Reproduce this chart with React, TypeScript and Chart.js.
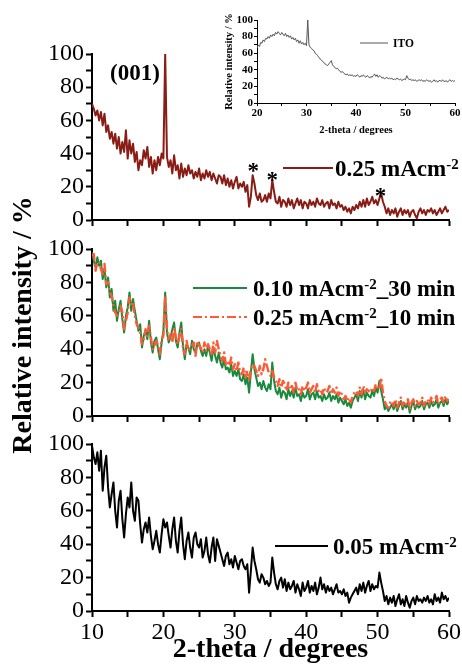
import React, { useEffect, useRef } from "react";
import { Chart, registerables } from "chart.js";

Chart.register(...registerables);

// ---------- data (2-theta sampled every 0.25 degree) ----------
const STEP = 0.25;
const MAIN_START = 10; // degrees, first sample of the three main panels
const ITO_START = 20; // degrees, first sample of the inset

// 0.25 mA cm-2 (top panel)
const J025 = [
  70, 67, 63, 66, 60, 65, 57, 64, 53, 57, 49, 53, 46, 52, 43, 50,
  40, 47, 41, 54, 37, 48, 40, 46, 35, 41, 30, 36, 33, 42, 37, 44,
  32, 38, 28, 36, 30, 38, 33, 40, 37, 100, 38, 32, 36, 28, 39, 30,
  33, 25, 34, 26, 31, 27, 33, 28, 30, 25, 29, 26, 31, 24, 28, 25,
  30, 26, 29, 24, 28, 25, 22, 27, 26, 22, 27, 21, 25, 20, 24, 19,
  23, 26, 19, 22, 20, 23, 17, 21, 8, 14, 27, 22, 15, 12, 16, 11,
  12, 15, 11, 16, 13, 24, 17, 11, 10, 14, 8, 12, 11, 8, 13, 9,
  12, 7, 10, 13, 9, 12, 7, 11, 10, 7, 12, 9, 11, 8, 13, 10,
  9, 12, 8, 10, 11, 7, 12, 9, 10, 7, 11, 8, 9, 6, 8, 5,
  7, 4, 8, 6, 9, 7, 11, 8, 12, 8, 13, 9, 11, 14, 10, 12,
  9, 13, 16, 11, 8, 4, 7, 3, 6, 4, 7, 2, 5, 7, 3, 6,
  4, 6, 2, 5, 6, 3, 1, 5, 7, 4, 6, 3, 6, 5, 7, 4,
  6, 3, 5, 7, 4, 6, 8, 5, 6,
];

// 0.10 mA cm-2, 30 min (middle panel, solid green)
const J010_30 = [
  98, 93, 89, 95, 90, 93, 82, 88, 77, 83, 71, 76, 63, 69, 57, 64,
  69, 58, 50, 60, 65, 74, 63, 70, 63, 57, 51, 55, 41, 48, 51, 46,
  57, 44, 38, 45, 47, 40, 34, 44, 51, 74, 50, 44, 47, 52, 56, 45,
  41, 50, 56, 42, 34, 43, 41, 37, 45, 40, 38, 43, 44, 39, 36, 40,
  36, 42, 38, 33, 41, 36, 32, 38, 32, 29, 34, 28, 29, 26, 31, 24,
  27, 24, 28, 22, 21, 25, 19, 23, 14, 26, 37, 28, 23, 18, 20, 16,
  21, 17, 15, 19, 16, 32, 21, 15, 13, 17, 11, 15, 14, 10, 16, 12,
  15, 11, 17, 12, 13, 9, 14, 11, 12, 16, 10, 13, 14, 10, 15, 11,
  12, 9, 13, 10, 11, 14, 9, 12, 10, 13, 8, 11, 9, 7, 10, 6,
  8, 5, 9, 11, 13, 9, 15, 11, 16, 10, 14, 12, 11, 15, 12, 17,
  14, 21, 15, 10, 4, 6, 3, 5, 7, 4, 8, 3, 6, 9, 4, 7,
  5, 8, 2, 6, 9, 4, 7, 5, 6, 9, 4, 7, 8, 5, 9, 6,
  7, 10, 5, 8, 9, 6, 10, 7, 9,
];

// 0.25 mA cm-2, 10 min (middle panel, dash-dot orange)
const J025_10 = [
  96, 97, 87, 92, 92, 88, 85, 91, 79, 80, 74, 72, 66, 62, 60, 61,
  66, 62, 52, 57, 62, 71, 66, 67, 60, 55, 53, 50, 43, 46, 52, 48,
  54, 47, 40, 42, 45, 42, 37, 46, 48, 72, 52, 46, 49, 44, 53, 47,
  43, 48, 52, 40, 37, 45, 39, 40, 42, 44, 36, 45, 42, 41, 38, 44,
  39, 43, 40, 36, 44, 38, 45, 40, 36, 33, 38, 31, 33, 30, 35, 28,
  31, 27, 32, 26, 25, 29, 23, 27, 22, 28, 31, 30, 27, 24, 30, 25,
  28, 34, 30, 26, 24, 27, 23, 21, 18, 22, 17, 21, 19, 15, 20, 16,
  18, 14, 20, 15, 16, 13, 18, 15, 17, 20, 14, 16, 18, 14, 19, 15,
  16, 13, 17, 14, 15, 18, 13, 16, 14, 17, 12, 15, 13, 10, 12, 9,
  11, 8, 12, 14, 15, 12, 17, 13, 18, 14, 16, 15, 14, 17, 15, 19,
  17, 16, 23, 14, 9, 6, 5, 8, 9, 6, 10, 5, 8, 11, 6, 9,
  7, 10, 4, 8, 10, 6, 9, 7, 8, 11, 6, 9, 10, 7, 11, 8,
  9, 12, 7, 10, 11, 8, 12, 9, 10,
];

// 0.05 mA cm-2 (bottom panel)
const J005 = [
  99, 92, 88, 95, 84, 96, 72, 86, 93, 74, 62, 70, 77, 60, 50, 66,
  72, 55, 44, 58, 68, 62, 77, 60, 54, 68, 66, 52, 41, 49, 53, 47,
  56, 45, 37, 42, 48, 40, 35, 46, 55, 50, 53, 45, 38, 49, 56, 42,
  35, 48, 56, 40, 31, 42, 47, 38, 32, 44, 47, 40, 38, 43, 32, 36,
  44, 34, 29, 38, 44, 30, 43, 39, 35, 31, 27, 33, 35, 28, 31, 26,
  33, 29, 25, 30, 31, 27, 25, 28, 11, 24, 38, 30, 25, 19, 17, 22,
  20, 16, 18, 15, 17, 32, 23, 16, 13, 18, 20, 14, 19, 12, 17, 13,
  15, 18, 11, 16, 13, 9, 17, 12, 14, 18, 11, 15, 12, 17, 10, 14,
  20, 13, 16, 11, 15, 12, 14, 10, 13, 16, 11, 12, 10, 13, 9, 11,
  5, 8, 10, 12, 14, 10, 16, 12, 17, 11, 15, 18, 12, 16, 13, 15,
  14, 23, 17, 12, 6, 9, 4, 8, 5, 9, 3, 7, 10, 4, 7, 3,
  9, 5, 2, 6, 8, 4, 9, 6, 7, 5, 8, 6, 9, 5, 7, 4,
  10, 6, 8, 5, 11, 7, 9, 6, 8,
];

// ITO substrate (inset)
const ITO = [
  66, 70, 68, 73, 72, 76, 74, 78, 77, 80, 78, 82, 80, 83, 81, 85,
  83, 86, 84, 82, 85, 83, 81, 84, 80, 82, 79, 81, 77, 79, 76, 78,
  74, 76, 72, 75, 71, 73, 70, 72, 69, 100, 70, 67, 66, 64, 63, 60,
  59, 57, 55, 53, 52, 50, 49, 47, 46, 45, 47, 49, 51, 46, 44, 43,
  41, 42, 40, 38, 37, 38, 36, 35, 34, 35, 33, 34, 33, 34, 32, 33,
  32, 34, 33, 31, 33, 32, 34, 32, 31, 33, 32, 30, 32, 31, 33, 35,
  32, 34, 31, 33, 32, 30, 31, 29, 30, 31, 29, 30, 29, 30, 28, 29,
  28, 30, 29, 28, 29, 27, 28, 29, 28, 33, 30, 28, 29, 27, 28, 27,
  28, 26, 27, 28, 27, 28, 26, 27, 26, 28, 27, 26, 27, 25, 26, 28,
  26, 27, 25, 27, 27, 26, 28, 26, 26, 27, 25, 27, 28, 26, 27, 26,
  27,
];

// peak markers (*) in the top panel, in data units
const STAR_X = [32.6, 35.25, 50.4];
const STAR_Y = [33, 28, 18];

const X_MIN = 10, X_MAX = 60;
const Y_MIN = 0, Y_MAX = 100;
const INSET_X_MIN = 20, INSET_X_MAX = 60;

// ---------- styling ----------
const CW = 462, CH = 669;
const SERIF = "'Liberation Serif', 'Times New Roman', serif";
const BROWN = "#8a1c16";
const GREEN = "#178a3e";
const ORANGE = "#ff5a34";
const DASHDOT = [9, 3, 2, 3];

function toPoints(values: number[], start: number) {
  return values.map((y, i) => ({ x: start + i * STEP, y }));
}

type Area = { left: number; top: number; right: number; bottom: number };

function lineDs(label: string, values: number[], start: number, color: string, width: number, dash: number[] = [], order = 0) {
  return {
    label,
    order,
    data: toPoints(values, start),
    borderColor: color,
    borderWidth: width,
    borderDash: dash,
    pointRadius: 0,
    tension: 0,
    fill: false,
    borderJoinStyle: "round",
  };
}

function buildConfig(o: {
  area: Area;
  yAxisW: number;
  xAxisH: number;
  datasets: any[];
  xMin: number;
  xMax: number;
  xStep: number;
  yStep: number;
  showXLabels: boolean;
  tickFont: any;
  tickLen: number;
  lineW: number;
  xTitle?: any;
  yTitle?: any;
  decor?: (chart: any) => void;
}) {
  const a = o.area;
  const grid = {
    display: true,
    drawOnChartArea: false,
    drawTicks: true,
    tickLength: o.tickLen,
    tickColor: "#000",
    tickWidth: o.lineW,
  };
  return {
    type: "line",
    data: { datasets: o.datasets },
    options: {
      animation: false,
      responsive: false,
      maintainAspectRatio: false,
      events: [],
      font: { family: SERIF },
      layout: {
        padding: {
          left: a.left - o.yAxisW,
          top: a.top,
          right: CW - a.right,
          bottom: CH - a.bottom - o.xAxisH,
        },
      },
      plugins: { legend: { display: false }, tooltip: { enabled: false }, title: { display: false } },
      scales: {
        x: {
          type: "linear",
          min: o.xMin,
          max: o.xMax,
          afterFit: (s: any) => {
            s.height = o.xAxisH;
            s.paddingLeft = 0;
            s.paddingRight = 0;
          },
          border: { display: true, color: "#000", width: o.lineW },
          grid,
          ticks: {
            stepSize: o.xStep,
            autoSkip: false,
            maxRotation: 0,
            minRotation: 0,
            padding: 1,
            color: "#000",
            font: o.tickFont,
            callback: (v: number) => (o.showXLabels && Math.abs(v % 10) < 1e-6 ? String(v) : ""),
          },
          title: o.xTitle || { display: false },
        },
        y: {
          type: "linear",
          min: Y_MIN,
          max: Y_MAX,
          afterFit: (s: any) => {
            s.width = o.yAxisW;
            s.paddingTop = 0;
            s.paddingBottom = 0;
          },
          border: { display: true, color: "#000", width: o.lineW },
          grid,
          ticks: {
            stepSize: o.yStep,
            autoSkip: false,
            padding: o.lineW > 1 ? 2 : 1,
            color: "#000",
            font: o.tickFont,
            callback: (v: number) => (Math.abs(v % 20) < 1e-6 ? String(v) : ""),
          },
          title: o.yTitle || { display: false },
        },
      },
    },
    plugins: o.decor ? [{ id: "decor", afterDraw: o.decor }] : [],
  };
}

type Part = { text: string; sup?: boolean };
function drawLegendEntry(
  ctx: CanvasRenderingContext2D,
  e: { x1: number; x2: number; y: number; color: string; width: number; dash?: number[]; textX: number; size: number; supSize: number; parts: Part[] }
) {
  ctx.save();
  ctx.strokeStyle = e.color;
  ctx.lineWidth = e.width;
  ctx.setLineDash(e.dash || []);
  ctx.beginPath();
  ctx.moveTo(e.x1, e.y);
  ctx.lineTo(e.x2, e.y);
  ctx.stroke();
  ctx.setLineDash([]);
  ctx.fillStyle = "#000";
  ctx.textAlign = "left";
  ctx.textBaseline = "alphabetic";
  const base = e.y + e.size * 0.34;
  let x = e.textX;
  for (const p of e.parts) {
    const size = p.sup ? e.supSize : e.size;
    ctx.font = `bold ${size}px ${SERIF}`;
    ctx.fillText(p.text, x, p.sup ? base - e.size * 0.3 : base);
    x += ctx.measureText(p.text).width;
  }
  ctx.restore();
}

const MAIN_TICK_FONT = { family: SERIF, size: 24, weight: 400 };
const INSET_TICK_FONT = { family: SERIF, size: 11, weight: "bold" };

export default function App() {
  const topRef = useRef<HTMLCanvasElement>(null);
  const midRef = useRef<HTMLCanvasElement>(null);
  const botRef = useRef<HTMLCanvasElement>(null);
  const insetRef = useRef<HTMLCanvasElement>(null);

  useEffect(() => {
    const charts: Chart[] = [];

    // top panel: 0.25 mA cm-2
    charts.push(
      new Chart(topRef.current as HTMLCanvasElement, buildConfig({
        area: { left: 92, top: 54, right: 449, bottom: 220 },
        yAxisW: 92,
        xAxisH: 10,
        datasets: [lineDs("0.25 mAcm-2", J025, MAIN_START, BROWN, 2)],
        xMin: X_MIN, xMax: X_MAX, xStep: 5, yStep: 10,
        showXLabels: false,
        tickFont: MAIN_TICK_FONT, tickLen: 6, lineW: 2,
        decor: (chart: any) => {
          const ctx = chart.ctx as CanvasRenderingContext2D;
          const xs = chart.scales.x, ys = chart.scales.y;
          drawLegendEntry(ctx, {
            x1: 283, x2: 333, y: 168, color: BROWN, width: 2, textX: 335, size: 23, supSize: 15,
            parts: [{ text: "0.25 mAcm" }, { text: "-2", sup: true }],
          });
          ctx.save();
          ctx.fillStyle = "#000";
          ctx.textAlign = "center";
          ctx.textBaseline = "alphabetic";
          ctx.font = `bold 23px ${SERIF}`;
          ctx.fillText("(001)", 135, 80);
          for (let i = 0; i < STAR_X.length; i++) {
            ctx.fillText("*", xs.getPixelForValue(STAR_X[i]), ys.getPixelForValue(STAR_Y[i]) + 13);
          }
          ctx.restore();
        },
      }) as any)
    );

    // middle panel (orange dash-dot drawn on top of green)
    charts.push(
      new Chart(midRef.current as HTMLCanvasElement, buildConfig({
        area: { left: 92, top: 249, right: 449, bottom: 416 },
        yAxisW: 92,
        xAxisH: 10,
        datasets: [
          lineDs("0.10 mAcm-2_30 min", J010_30, MAIN_START, GREEN, 2, [], 2),
          lineDs("0.25 mAcm-2_10 min", J025_10, MAIN_START, ORANGE, 2.4, DASHDOT, 1),
        ],
        xMin: X_MIN, xMax: X_MAX, xStep: 5, yStep: 10,
        showXLabels: false,
        tickFont: MAIN_TICK_FONT, tickLen: 6, lineW: 2,
        decor: (chart: any) => {
          const ctx = chart.ctx as CanvasRenderingContext2D;
          drawLegendEntry(ctx, {
            x1: 193, x2: 247, y: 288, color: GREEN, width: 2, textX: 253, size: 23, supSize: 15,
            parts: [{ text: "0.10 mAcm" }, { text: "-2", sup: true }, { text: "_30 min" }],
          });
          drawLegendEntry(ctx, {
            x1: 193, x2: 247, y: 317, color: ORANGE, width: 2, dash: DASHDOT, textX: 253, size: 23, supSize: 15,
            parts: [{ text: "0.25 mAcm" }, { text: "-2", sup: true }, { text: "_10 min" }],
          });
          // shared y-axis title for the three panels
          ctx.save();
          ctx.translate(24, 325);
          ctx.rotate(-Math.PI / 2);
          ctx.fillStyle = "#000";
          ctx.textAlign = "center";
          ctx.textBaseline = "middle";
          ctx.font = `bold 28px ${SERIF}`;
          ctx.fillText("Relative intensity / %", 0, 0);
          ctx.restore();
        },
      }) as any)
    );

    // bottom panel
    charts.push(
      new Chart(botRef.current as HTMLCanvasElement, buildConfig({
        area: { left: 92, top: 444, right: 449, bottom: 611 },
        yAxisW: 92,
        xAxisH: 58,
        datasets: [lineDs("0.05 mAcm-2", J005, MAIN_START, "#000", 2)],
        xMin: X_MIN, xMax: X_MAX, xStep: 5, yStep: 10,
        showXLabels: true,
        tickFont: MAIN_TICK_FONT, tickLen: 6, lineW: 2,
        xTitle: {
          display: true,
          text: "2-theta / degrees",
          color: "#000",
          font: { family: SERIF, size: 28, weight: "bold" },
          padding: { top: 0, bottom: 2 },
        },
        decor: (chart: any) => {
          drawLegendEntry(chart.ctx, {
            x1: 275, x2: 328, y: 546, color: "#000", width: 2, textX: 333, size: 23, supSize: 15,
            parts: [{ text: "0.05 mAcm" }, { text: "-2", sup: true }],
          });
        },
      }) as any)
    );

    // inset: ITO substrate
    charts.push(
      new Chart(insetRef.current as HTMLCanvasElement, buildConfig({
        area: { left: 257, top: 20, right: 455, bottom: 103 },
        yAxisW: 40,
        xAxisH: 34,
        datasets: [lineDs("ITO", ITO, ITO_START, "#555", 1)],
        xMin: INSET_X_MIN, xMax: INSET_X_MAX, xStep: 5, yStep: 10,
        showXLabels: true,
        tickFont: INSET_TICK_FONT, tickLen: 3, lineW: 1,
        xTitle: {
          display: true,
          text: "2-theta / degrees",
          color: "#000",
          font: { family: SERIF, size: 10.5, weight: "bold" },
          padding: { top: 0, bottom: 0 },
        },
        yTitle: {
          display: true,
          text: "Relative intensity / %",
          color: "#000",
          font: { family: SERIF, size: 10.5, weight: "bold" },
          padding: { top: 6, bottom: 0 },
        },
        decor: (chart: any) => {
          drawLegendEntry(chart.ctx, {
            x1: 360, x2: 388, y: 43, color: "#555", width: 1, textX: 393, size: 11.5, supSize: 8,
            parts: [{ text: "ITO" }],
          });
        },
      }) as any)
    );

    return () => charts.forEach((c) => c.destroy());
  }, []);

  const canvasStyle: React.CSSProperties = { position: "absolute", left: 0, top: 0, width: CW, height: CH };
  return (
    <div style={{ position: "absolute", left: 0, top: 0, width: CW, height: CH, background: "#fff", overflow: "hidden" }}>
      <canvas ref={topRef} width={CW} height={CH} style={canvasStyle} />
      <canvas ref={midRef} width={CW} height={CH} style={canvasStyle} />
      <canvas ref={botRef} width={CW} height={CH} style={canvasStyle} />
      <canvas ref={insetRef} width={CW} height={CH} style={canvasStyle} />
    </div>
  );
}
